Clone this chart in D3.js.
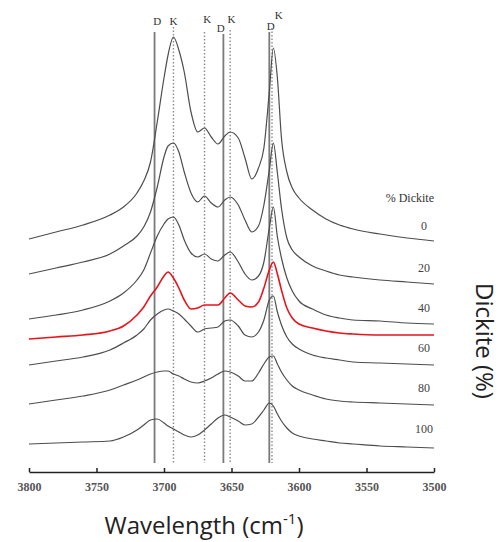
<!DOCTYPE html>
<html><head><meta charset="utf-8">
<script src="https://cdn.jsdelivr.net/npm/d3@7"></script>
<style>body{margin:0;background:#fff;} svg{display:block;}</style>
</head><body>
<script>
// Wavenumber grid (cm-1)
const wavenumbers = [3800,3780,3760,3740,3730,3720,3715,3710,3705,3700,3697,3693,3689,3685,3680,3675,3670,3665,3660,3655,3651,3645,3640,3635,3630,3626,3622,3619,3616,3613,3609,3605,3600,3590,3580,3570,3560,3540,3520,3500];
// Offset absorbance (arbitrary units) per sample
const dickite0   = [233,240,247,257,265,279,291,310,350,394,417,435,422,400,360,340,344,335,328,336,340,334,314,293,304,324,380,424,394,334,300,284,274,262,253,247,243,238,234,231];
const dickite20  = [198,204,210,218,226,236,245,260,285,315,326,329,320,300,279,270,276,269,265,272,275,267,252,240,246,267,302,329,299,264,234,222,215,206,201,197,195,192,190,188];
const dickite40  = [153,157,162,171,179,192,202,219,236,248,253,255,247,232,219,215,218,213,211,217,220,210,198,192,196,210,244,265,235,214,194,181,171,163,157,154,152,151,149,148];
const sampleRed  = [133,135,137,141,146,157,165,176,185,196,200,194,184,172,163,164,167,167,167,174,179,172,166,165,170,184,202,210,198,182,164,154,148,144,141,139,138,137,137,137];
const dickite60  = [107,111,115,122,129,137,143,152,158,162,163,161,158,153,146,140,143,144,145,151,152,146,137,135,140,152,172,176,160,147,135,128,123,117,114,112,110,109,108,107];
const dickite80  = [68,72,76,82,87,92,95,98,100,101,101,98,96,93,90,89,91,94,98,101,100,96,91,91,99,108,115,116,108,100,92,86,82,77,73,71,70,69,68,67];
const dickite100 = [28,29,30,31,35,42,47,52,53,49,46,43,40,37,35,37,42,48,54,57,55,51,47,48,55,62,69,66,58,51,44,39,36,33,31,29,28,26,25,24];

const seriesNames  = ["0","20","40","red","60","80","100"];
const percentLabels = ["0","20","40","60","80","100"];
const percentLabelValues = [246,204,164,124,84,43];

// Reference bands
const bandNames = ["D","K","K","D","K","D","K"];
const bandPositions = [3707,3693,3670,3656,3651,3622,3620];
const bandTops = [440,445,440,438,442,440,444];
const bandBottom = 9;
const bandLabelPositions = [3705,3693,3668,3658,3650,3621,3615];
const bandLabelValues = [451,451,453,444,453,446,457];

const xTicks = [3800,3750,3700,3650,3600,3550,3500];

const W = 504, H = 542;
const svg = d3.select("body").append("svg").attr("width", W).attr("height", H);

const x = d3.scaleLinear().domain([3800, 3500]).range([29, 434]);
const y = d3.scaleLinear().domain([0, 450]).range([472, 22]);

// band lines
bandPositions.forEach((p, i) => {
  const isD = bandNames[i] === "D";
  svg.append("line")
    .attr("x1", x(p)).attr("x2", x(p))
    .attr("y1", y(bandTops[i])).attr("y2", y(bandBottom))
    .attr("stroke", isD ? "#7a7a7a" : "#8a8a8a")
    .attr("stroke-width", isD ? 1.8 : 1.4)
    .attr("stroke-dasharray", isD ? null : "1.5,2");
  svg.append("text")
    .attr("x", x(bandLabelPositions[i]))
    .attr("y", y(bandLabelValues[i]))
    .attr("text-anchor", "middle")
    .attr("dominant-baseline", "central")
    .attr("font-family", "Liberation Serif, serif")
    .attr("font-size", 11)
    .attr("fill", "#333")
    .text(bandNames[i]);
});

const series = [dickite0, dickite20, dickite40, sampleRed, dickite60, dickite80, dickite100];
const line = d3.line()
  .x((d, i) => x(wavenumbers[i]))
  .y(d => y(d))
  .curve(d3.curveMonotoneX);

series.forEach((s, k) => {
  const red = seriesNames[k] === "red";
  svg.append("path")
    .attr("d", line(s))
    .attr("fill", "none")
    .attr("stroke", red ? "#e8131b" : "#4d4d4d")
    .attr("stroke-width", red ? 1.6 : 1.2);
});

// axis
const axis = d3.axisBottom(x).tickValues(xTicks).tickSizeInner(-4).tickSizeOuter(0).tickPadding(10).tickFormat(d3.format("d"));
const gx = svg.append("g").attr("transform", `translate(0,${y(0)})`).call(axis);
gx.select(".domain").attr("stroke", "#222").attr("stroke-width", 1.5);
gx.selectAll(".tick line").attr("stroke", "#222").attr("stroke-width", 1.5);
gx.selectAll(".tick text")
  .attr("font-family", "Liberation Serif, serif")
  .attr("font-size", 12)
  .attr("font-weight", "bold")
  .attr("fill", "#555");

// % Dickite labels
svg.append("text")
  .attr("x", 434).attr("y", 198)
  .attr("text-anchor", "end").attr("dominant-baseline", "central")
  .attr("font-family", "Liberation Serif, serif").attr("font-size", 12)
  .attr("fill", "#333").text("% Dickite");

percentLabels.forEach((t, i) => {
  svg.append("text")
    .attr("x", 424).attr("y", y(percentLabelValues[i]))
    .attr("text-anchor", "middle").attr("dominant-baseline", "central")
    .attr("font-family", "Liberation Serif, serif").attr("font-size", 12)
    .attr("fill", "#444").text(t);
});

// axis titles
const xt = svg.append("text")
  .attr("x", 204).attr("y", 534)
  .attr("text-anchor", "middle")
  .attr("font-family", "Open Sans, sans-serif").attr("font-size", 24)
  .attr("fill", "#222");
xt.append("tspan").text("Wavelength (cm");
xt.append("tspan").attr("dy", -10).attr("font-size", 15).text("-1");
xt.append("tspan").attr("dy", 10).text(")");

svg.append("text")
  .attr("transform", "translate(476,341) rotate(90)")
  .attr("text-anchor", "middle")
  .attr("font-family", "Open Sans, sans-serif").attr("font-size", 24)
  .attr("fill", "#222")
  .text("Dickite (%)");
</script>
</body></html>
